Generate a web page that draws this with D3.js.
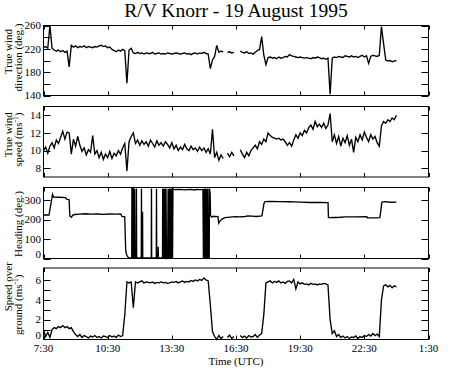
<!DOCTYPE html>
<html><head><meta charset="utf-8">
<script src="https://cdn.jsdelivr.net/npm/d3@7"></script>
<style>
body{margin:0;background:#fff}
svg{display:block}
text{font-family:"Liberation Serif","Times New Roman",serif;fill:#000}
</style>
</head><body>
<svg id="c" width="450" height="375"></svg>
<script>
// ---------- data ----------
const title = "R/V Knorr - 19 August 1995";
const xTitle = "Time (UTC)";
const timeTicks = [7.5, 10.5, 13.5, 16.5, 19.5, 22.5, 25.5];
const timeTickLabels = ["7:30", "10:30", "13:30", "16:30", "19:30", "22:30", "1:30"];

// regular samples: hour of day = sampleStart + i * sampleStep
const sampleStart = 7.5, sampleStep = 0.1;

const windDir = [222,224,221,260,221,218,216,218,215,217,214,216,189,
 226,223,225,222,224,223,225,222,224,223,222,224,223,225,226,224,225,222,223,
 219,217,215,218,216,219,217,161,218,221,
 213,212,214,212,213,211,213,212,212,214,211,212,213,211,212,211,213,212,211,212,213,212,211,212,213,211,212,210,212,213,211,213,212,214,212,211,
 186,201,207,226,214,216,215,null,214,215,213,214,null,null,
 216,214,213,215,212,213,211,214,217,219,241,209,193,
 205,206,204,205,203,206,204,205,207,206,210,208,207,206,205,206,205,204,205,204,203,205,204,206,205,203,204,202,204,
 142,
 204,206,205,207,206,205,208,207,206,208,206,207,205,207,209,206,208,195,207,209,208,207,209,
 258,229,201,199,200,198,199,200];

const windSpeed = [10.0,10.4,9.7,10.5,10.9,10.3,11.2,10.8,11.5,12.2,11.3,12.1,12.0,9.6,
 11.3,10.5,11.6,10.6,9.9,10.3,9.5,10.1,9.8,11.7,
 9.6,10.0,9.2,9.8,9.0,9.6,9.2,9.9,9.1,9.7,9.4,10.0,9.6,10.3,10.8,7.7,
 11.0,11.6,12.0,10.8,
 11.2,10.6,11.1,10.7,11.0,10.5,11.2,10.8,10.4,11.1,10.6,10.9,10.5,11.0,10.7,10.3,10.9,
 10.2,10.6,10.0,10.4,10.1,10.7,10.2,10.0,10.5,10.1,10.3,9.9,10.4,10.0,10.3,9.8,
 10.2,9.6,12.4,9.2,9.8,8.9,9.5,9.1,null,9.7,9.3,9.8,9.4,null,null,
 10.1,9.6,9.2,9.8,9.4,10.0,10.3,10.6,10.2,11.0,10.7,11.3,11.0,12.0,11.7,
 11.5,11.4,11.3,11.4,11.2,11.3,11.0,10.6,10.9,10.5,
 11.2,11.8,11.4,12.0,11.7,12.3,12.0,12.6,12.9,12.4,13.3,12.7,13.0,12.6,13.1,12.5,12.9,14.2,
 11.0,11.8,10.8,11.6,10.5,11.4,10.9,11.7,10.6,11.3,9.8,11.5,11.0,
 11.8,11.2,12.1,11.5,11.0,11.8,11.3,11.6,10.9,10.5,
 12.8,13.3,13.1,13.5,13.3,13.7,13.5,14.0];

const groundSpeed = [1.0,0.3,0.7,0.2,1.0,1.2,1.1,1.3,1.2,1.4,1.2,1.3,1.1,1.2,0.8,0.5,0.3,0.5,
 0.2,0.4,0.3,0.15,0.35,0.25,0.4,0.2,0.3,0.15,0.35,0.3,0.2,0.4,0.25,0.35,0.2,0.45,0.3,
 0.4,2.5,5.8,5.7,5.8,3.2,5.8,
 5.7,5.8,5.9,5.7,5.8,5.75,5.7,5.8,5.65,5.75,5.7,5.8,5.7,5.75,5.65,5.7,5.8,5.75,5.85,5.7,5.8,5.9,5.75,5.85,5.8,5.95,5.85,6.0,5.9,6.05,5.95,6.2,6.0,5.9,
 3.5,0.8,0.3,0.0,0.4,0.1,0.3,null,0.2,0.45,0.1,0.3,null,null,
 0.4,0.2,0.35,0.15,0.4,0.25,0.3,0.5,0.2,0.45,0.6,2.5,5.7,
 5.8,5.9,5.7,5.85,5.75,5.9,5.7,5.8,5.65,5.85,5.9,5.7,6.05,5.1,5.8,5.6,5.7,5.55,5.6,5.5,5.65,5.55,5.6,5.5,5.6,5.55,5.65,5.6,5.5,
 2.0,0.6,0.9,
 0.3,0.5,0.2,0.35,0.15,0.3,0.1,0.25,0.2,0.35,0.1,0.3,0.2,0.4,0.3,0.5,0.35,0.6,0.4,
 0.55,0.3,4.0,5.4,5.5,5.3,5.45,5.2,5.4,5.3];

// heading is irregularly sampled (hour of day, degrees)
const headingTime = [7.5,7.594,7.734,7.758,7.922,7.969,8.25,8.531,8.578,8.695,8.733,8.813,8.859,8.953,
 9.188,9.469,9.75,10.031,10.313,10.594,10.875,11.109,11.17,11.297,11.344,11.391,11.461,11.578,
 11.625,11.634,11.653,11.663,11.681,11.7,11.709,11.728,11.747,11.761,11.775,
 11.836,11.845,11.855,12.071,12.08,12.089,12.122,12.131,12.141,12.539,12.548,12.558,
 12.773,12.783,12.792,12.853,12.863,12.872,13.064,
 13.073,13.097,13.116,13.134,13.153,13.172,13.191,13.209,13.228,13.247,13.261,13.303,
 13.327,13.345,13.364,13.383,13.402,13.42,13.439,13.458,13.477,13.495,13.514,13.533,13.552,
 13.641,13.875,14.109,14.344,14.578,14.625,14.813,14.953,
 14.977,14.995,15.014,15.033,15.052,15.07,15.089,15.108,15.127,15.145,15.164,15.183,15.202,
 15.248,15.258,15.291,15.309,15.352,15.469,15.563,15.656,15.689,15.75,15.844,15.984,
 16.219,16.453,16.688,16.922,17.063,17.25,17.438,17.625,17.709,17.813,17.859,
 18.094,18.563,19.031,19.5,19.969,20.438,20.803,20.822,21.141,21.375,21.609,22.078,22.617,22.641,
 23.016,23.227,23.32,23.484,23.719,24.0];
const headingDeg = [222,225,223,223,330,316,315,313,305,303,218,212,222,226,
 228,230,228,229,227,229,228,229,216,214,40,18,5,2,
 3,360,358,2,357,360,3,358,2,359,3,
 4,360,4,3,359,2,3,240,4,3,360,2,
 4,358,3,2,60,3,3,
 358,2,359,3,357,2,360,3,358,2,4,3,
 358,3,359,2,360,3,358,2,359,3,360,2,357,
 354,355,353,355,352,355,354,355,
 2,358,3,359,2,360,3,357,2,359,3,358,2,
 4,360,335,222,214,217,215,216,181,192,203,210,
 213,215,214,216,219,218,216,218,219,285,292,
 293,292,292,290,288,288,287,210,211,212,214,214,215,209,
 209,210,290,292,289,290];

const dirTicks = [140,160,180,200,220,240,260], dirLabels = [140,180,220,260];
const spdTicks = [8,10,12,14], spdLabels = [8,10,12,14];
const hdgTicks = [0,100,200,300], hdgLabels = [0,100,200,300];
const sogTicks = [1,2,3,4,5,6], sogLabels = [0,2,4,6];

// ---------- drawing ----------
const svg = d3.select("#c");
const X0 = 43.5, X1 = 428.5;
const x = d3.scaleLinear().domain([7.5, 25.5]).range([X0, X1]);

const regular = arr => arr.map((v, i) => ({t: sampleStart + i * sampleStep, v}));

const panels = [
  {top: 25.5, bottom: 95.5, domain: [140, 260], ticks: dirTicks, labels: dirLabels,
   data: regular(windDir), ylab: [["True wind", null, 11.5, -9], ["direction (deg.)", null, 21.5, -3]]},
  {top: 106.5, bottom: 177, domain: [7, 15], ticks: spdTicks, labels: spdLabels,
   data: regular(windSpeed), ylab: [["True wind", null, 11.5, -7], ["speed (ms", "-1", 21.5, -2]]},
  {top: 187.5, bottom: 258.5, domain: [0, 365], ticks: hdgTicks, labels: hdgLabels,
   data: headingTime.map((t, i) => ({t, v: headingDeg[i]})), ylab: [["Heading (deg.)", null, 21.5, 1]]},
  {top: 268, bottom: 339.5, domain: [0, 7.2], ticks: sogTicks, labels: sogLabels,
   data: regular(groundSpeed), ylab: [["Speed over", null, 11.5, -17], ["ground (ms", "-1", 21.5, 1]]}
];

svg.append("text").attr("x", 236).attr("y", 17).attr("text-anchor", "middle")
  .style("font-size", "19.5px").text(title);

panels.forEach((p, k) => {
  const y = d3.scaleLinear().domain(p.domain).range([p.bottom, p.top]);
  const g = svg.append("g");
  // data line
  const line = d3.line().defined(d => d.v != null).x(d => x(d.t)).y(d => y(d.v));
  g.append("path").datum(p.data).attr("d", line)
    .attr("fill", "none").attr("stroke", "#000").attr("stroke-width", 1.35).attr("stroke-linejoin", "miter");
  // frame
  g.append("rect").attr("x", X0).attr("y", p.top).attr("width", X1 - X0).attr("height", p.bottom - p.top)
    .attr("fill", "none").attr("stroke", "#000").attr("stroke-width", 1);
  // y ticks (inward, both sides)
  p.ticks.forEach(v => {
    const yy = Math.round(y(v)) + 0.5;
    g.append("line").attr("x1", X0).attr("x2", X0 + 7).attr("y1", yy).attr("y2", yy).attr("stroke", "#000");
    g.append("line").attr("x1", X1 - 7).attr("x2", X1).attr("y1", yy).attr("y2", yy).attr("stroke", "#000");
  });
  p.labels.forEach(v => {
    const lift = (v === p.domain[0] && p.domain[0] === 0) ? -4.5 : 0;
    g.append("text").attr("x", 41).attr("y", y(v) + lift).attr("dy", "0.35em").attr("text-anchor", "end")
      .style("font-size", "11px").text(v);
  });
  // x ticks (inward, top and bottom)
  timeTicks.forEach(t => {
    const xx = Math.round(x(t)) + 0.5;
    g.append("line").attr("x1", xx).attr("x2", xx).attr("y1", p.bottom).attr("y2", p.bottom - 4).attr("stroke", "#000");
    g.append("line").attr("x1", xx).attr("x2", xx).attr("y1", p.top).attr("y2", p.top + 4).attr("stroke", "#000");
  });
  // y axis title
  const cy = (p.top + p.bottom) / 2;
  p.ylab.forEach(([txt, sup, bx, off]) => {
    const t = g.append("text").attr("transform", `translate(${bx},${cy + off}) rotate(-90)`)
      .attr("text-anchor", "middle").style("font-size", "11px");
    t.append("tspan").text(txt);
    if (sup) {
      t.append("tspan").attr("dy", -4).style("font-size", "7.5px").text(sup);
      t.append("tspan").attr("dy", 4).text(")");
    }
  });
  // x tick labels on last panel
  if (k === panels.length - 1) {
    timeTicks.forEach((t, i) => {
      g.append("text").attr("x", x(t)).attr("y", p.bottom + 12.5).attr("text-anchor", "middle")
        .style("font-size", "11px").text(timeTickLabels[i]);
    });
    svg.append("text").attr("x", (X0 + X1) / 2).attr("y", 365).attr("text-anchor", "middle")
      .style("font-size", "11px").text(xTitle);
  }
});
</script>
</body></html>
